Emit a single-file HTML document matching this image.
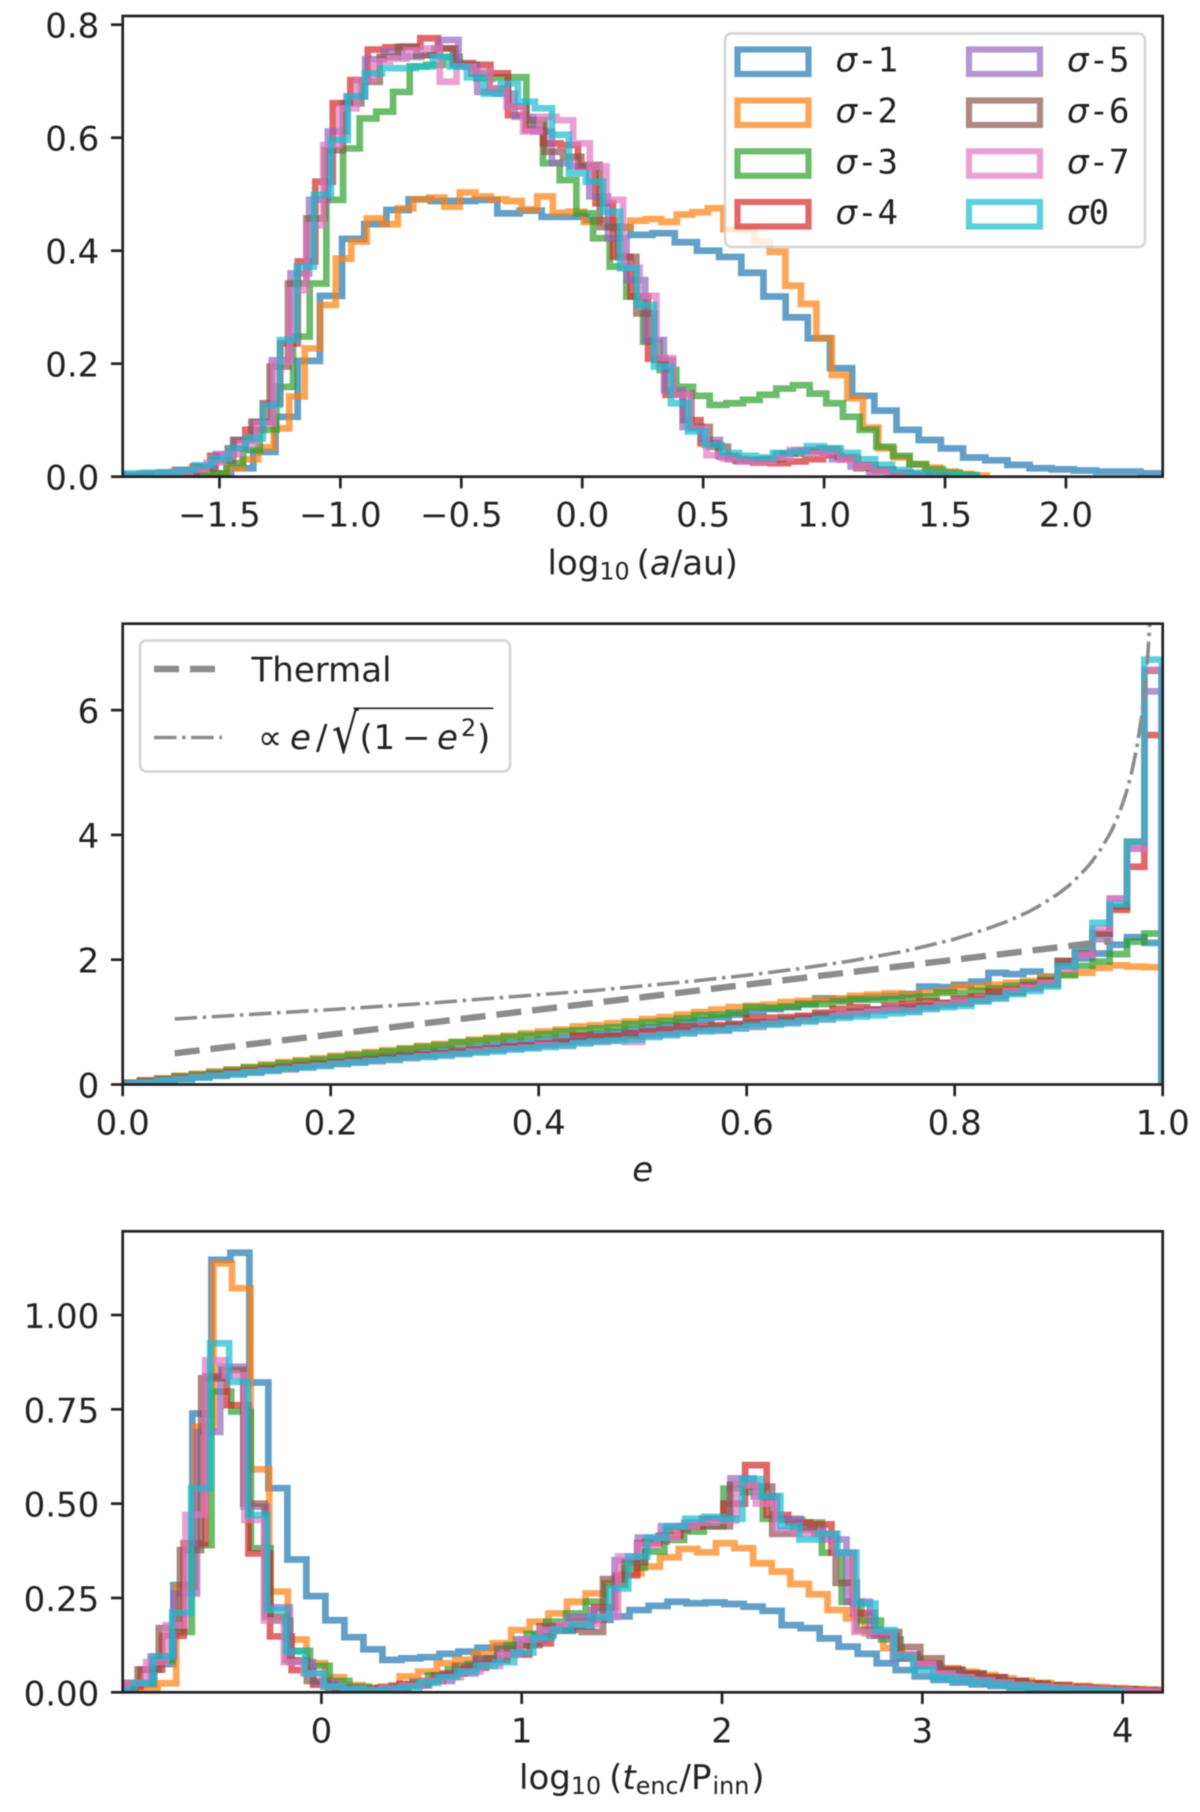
<!DOCTYPE html>
<html lang="en">
<head>
<meta charset="utf-8">
<title>Histograms of semi-major axis, eccentricity and encounter time</title>
<style>
html,body{margin:0;padding:0;background:#fff;}
svg{display:block;filter:blur(0.4px);}
text{font-family:"DejaVu Sans",sans-serif;fill:#222;}
.mono{font-family:"DejaVu Sans Mono",monospace;}
</style>
</head>
<body>
<svg id="chart" xmlns="http://www.w3.org/2000/svg" width="1200" height="1812" viewBox="0 0 1200 1812" font-size="34">
  <defs>
    <clipPath id="clip-a"><rect x="122.7" y="16" width="1040" height="460.7"/></clipPath>
    <clipPath id="clip-e"><rect x="122.7" y="623.7" width="1040" height="460.8"/></clipPath>
    <clipPath id="clip-t"><rect x="122.7" y="1231.3" width="1040" height="461"/></clipPath>
  </defs>
  <rect x="0" y="0" width="1200" height="1812" fill="#fff"/>
  <g id="panel-a"></g>
  <g id="panel-e"></g>
  <g id="panel-t"></g>

  <text x="547.5" y="574.5">log<tspan font-size="23.8" dy="5">10</tspan><tspan dy="-5" dx="7">(</tspan><tspan font-style="italic">a</tspan>/au)</text>
  <text x="642.7" y="1181" text-anchor="middle" font-style="italic">e</text>
  <text x="519" y="1789">log<tspan font-size="23.8" dy="5">10</tspan><tspan dy="-5" dx="8">(</tspan><tspan font-style="italic">t</tspan><tspan font-size="23.8" dy="5">enc</tspan><tspan dy="-5" dx="1">/P</tspan><tspan font-size="23.8" dy="5" dx="1">inn</tspan><tspan dy="-5" dx="2">)</tspan></text>

  <g>
    <rect x="725" y="33.5" width="420" height="213.5" rx="6.5" fill="#fff" fill-opacity="0.8" stroke="#ccc" stroke-opacity="0.8" stroke-width="2.7"/>
    <g fill="none" stroke-width="6.2" stroke-opacity="0.7">
      <rect x="737.5" y="49.5" width="71" height="24.5" stroke="#1f77b4"/>
      <rect x="737.5" y="100.5" width="71" height="24.5" stroke="#ff7f0e"/>
      <rect x="737.5" y="151.3" width="71" height="24.5" stroke="#2ca02c"/>
      <rect x="737.5" y="202" width="71" height="24.5" stroke="#d62728"/>
      <rect x="969" y="49.5" width="71" height="24.5" stroke="#9467bd"/>
      <rect x="969" y="100.5" width="71" height="24.5" stroke="#8c564b"/>
      <rect x="969" y="151.3" width="71" height="24.5" stroke="#e377c2"/>
      <rect x="969" y="202" width="71" height="24.5" stroke="#17becf"/>
    </g>
    <text x="835.5" y="71.5"><tspan font-style="italic">σ</tspan><tspan class="mono">-1</tspan></text>
    <text x="835.5" y="122.5"><tspan font-style="italic">σ</tspan><tspan class="mono">-2</tspan></text>
    <text x="835.5" y="173.3"><tspan font-style="italic">σ</tspan><tspan class="mono">-3</tspan></text>
    <text x="835.5" y="224"><tspan font-style="italic">σ</tspan><tspan class="mono">-4</tspan></text>
    <text x="1067" y="71.5"><tspan font-style="italic">σ</tspan><tspan class="mono">-5</tspan></text>
    <text x="1067" y="122.5"><tspan font-style="italic">σ</tspan><tspan class="mono">-6</tspan></text>
    <text x="1067" y="173.3"><tspan font-style="italic">σ</tspan><tspan class="mono">-7</tspan></text>
    <text x="1067" y="224"><tspan font-style="italic">σ</tspan><tspan class="mono">0</tspan></text>
  </g>

  <g>
    <rect x="140" y="640.5" width="370" height="131" rx="6.5" fill="#fff" fill-opacity="0.8" stroke="#ccc" stroke-opacity="0.8" stroke-width="2.7"/>
    <line x1="154" y1="669" x2="217" y2="669" stroke="#8c8c8c" stroke-width="6.4" stroke-dasharray="25 11"/>
    <line x1="154" y1="737.5" x2="222" y2="737.5" stroke="#8c8c8c" stroke-width="3.6" stroke-dasharray="22.5 5.6 3.5 5.6"/>
    <text x="251.5" y="681.5">Thermal</text>
    <g>
      <text x="258" y="749">∝</text>
      <text x="290" y="749" font-style="italic">e</text>
      <text x="316" y="749">/</text>
      <text transform="translate(332,752.5) scale(1,1.3)" font-size="42">√</text>
      <path d="M353.5 708.3 H493.3" stroke="#222" stroke-width="1.7" fill="none"/>
      <text x="359.5" y="749">(</text>
      <text x="373.5" y="749">1</text>
      <text x="402" y="749">−</text>
      <text x="437" y="749" font-style="italic">e</text>
      <text x="461" y="736" font-size="23.8">2</text>
      <text x="477" y="749">)</text>
    </g>
  </g>

<script>
// ---------- palette and labels ----------
const seriesNames = ['sigma-1','sigma-2','sigma-3','sigma-4','sigma-5','sigma-6','sigma-7','sigma-0'];
const seriesColors = ['#1f77b4','#ff7f0e','#2ca02c','#d62728','#9467bd','#8c564b','#e377c2','#17becf'];

// ---------- panel 1: log10(a/au) histograms ----------
const aBinStarts = [-1.91,-1.596,-1.609,-1.9,-1.901,-1.747,-1.76,-1.953];
const aBinWidths = [0.0917,0.0641,0.0689,0.0724,0.0772,0.0758,0.0689,0.0703];
const aSigma1 = [.001,.001,.002,.0035,.006,.015,.044,.106,.205,.320,.421,.447,.472,.491,.488,.488,.490,.466,.471,.460,.460,.454,.442,.428,.431,.415,.400,.389,.361,.319,.282,.245,.192,.143,.117,.083,.065,.050,.034,.029,.021,.015,.013,.011,.009,.009,.006];
const aSigma2 = [.003,.006,.015,.031,.052,.0855,.142,.227,.304,.386,.416,.457,.447,.475,.491,.494,.478,.503,.496,.491,.488,.473,.496,.467,.469,.451,.454,.44,.453,.456,.451,.464,.468,.475,.438,.437,.416,.398,.338,.306,.245,.180,.139,.087,.050,.034,.022,.016,.009,.005,.002];
const aSigma3 = [.002,.006,.024,.047,.083,.159,.248,.342,.49,.581,.634,.646,.681,.726,.729,.743,.729,.705,.707,.707,.622,.555,.525,.466,.422,.372,.319,.239,.189,.159,.143,.127,.13,.136,.145,.156,.162,.147,.13,.106,.083,.053,.037,.022,.013,.007,.003];
const aSigma4 = [.003,.005,.007,.012,.018,.037,.05,.083,.130,.236,.381,.522,.661,.702,.756,.76,.761,.776,.758,.732,.729,.714,.64,.614,.59,.587,.549,.484,.389,.319,.209,.145,.10,.059,.037,.028,.025,.024,.027,.031,.038,.031,.021,.013,.007,.004,.002];
const aSigma5 = [.002,.003,.006,.009,.018,.04,.065,.097,.206,.36,.49,.611,.673,.739,.752,.743,.746,.773,.726,.681,.678,.637,.611,.555,.549,.496,.422,.348,.242,.153,.088,.065,.035,.027,.03,.041,.047,.044,.031,.018,.009,.005,.002];
const aSigma6 = [.004,.008,.015,.028,.065,.097,.195,.342,.457,.578,.661,.699,.743,.761,.746,.758,.729,.714,.687,.655,.631,.575,.566,.552,.442,.389,.289,.206,.147,.088,.053,.031,.03,.031,.041,.046,.05,.035,.015,.011,.005,.002];
const aSigma7 = [.006,.009,.013,.025,.04,.059,.094,.204,.33,.445,.587,.652,.702,.735,.74,.755,.758,.699,.726,.717,.687,.655,.611,.637,.631,.59,.549,.49,.37,.32,.21,.145,.085,.038,.032,.027,.027,.034,.047,.041,.044,.03,.018,.009,.005,.002];
const aSigma0 = [.005,.006,.007,.008,.012,.02,.032,.05,.068,.127,.242,.372,.499,.596,.673,.714,.723,.723,.726,.743,.726,.707,.678,.696,.664,.652,.605,.537,.522,.469,.369,.304,.195,.130,.08,.056,.042,.037,.034,.042,.044,.054,.05,.042,.031,.021,.012,.007,.005,.003,.001];
const aXTicks = [-1.5,-1.0,-0.5,0.0,0.5,1.0,1.5,2.0];
const aXTickLabels = ['−1.5','−1.0','−0.5','0.0','0.5','1.0','1.5','2.0'];
const aYTicks = [0,0.2,0.4,0.6,0.8];
const aYTickLabels = ['0.0','0.2','0.4','0.6','0.8'];

// ---------- panel 2: eccentricity histograms ----------
const eBinStarts = [0,0,0,0,0,0,0,0];
const eBinWidths = [0.01665,0.01665,0.01665,0.01665,0.01665,0.01665,0.01665,0.01665];
const eSigma1 = [.02,.05,.08,.11,.14,.17,.20,.23,.26,.29,.32,.35,.38,.41,.44,.46,.49,.52,.55,.57,.60,.63,.66,.69,.72,.75,.78,.81,.84,.88,.92,.96,1.00,1.03,1.08,1.12,1.17,1.21,1.24,1.30,1.38,1.36,1.38,1.40,1.42,1.45,1.57,1.56,1.60,1.65,1.79,1.77,1.81,1.73,1.89,2.02,2.10,2.24,2.36,2.27];
const eSigma2 = [.03,.07,.10,.14,.17,.21,.24,.28,.32,.36,.39,.42,.46,.49,.52,.55,.58,.62,.65,.68,.72,.75,.78,.82,.85,.88,.93,.95,.98,1.01,1.05,1.08,1.12,1.16,1.20,1.24,1.26,1.28,1.32,1.34,1.36,1.38,1.42,1.44,1.46,1.44,1.47,1.50,1.57,1.56,1.60,1.63,1.66,1.72,1.77,1.79,1.87,1.91,1.89,1.88];
const eSigma3 = [.02,.06,.09,.13,.16,.19,.23,.27,.30,.34,.37,.40,.44,.47,.50,.53,.57,.60,.63,.68,.70,.73,.76,.79,.81,.85,.87,.90,.92,.97,1.00,1.02,1.06,1.11,1.12,1.15,1.24,1.23,1.25,1.28,1.29,1.33,1.36,1.36,1.37,1.39,1.41,1.47,1.46,1.50,1.54,1.58,1.63,1.68,1.75,1.90,1.97,2.09,2.29,2.42];
const eSigma4 = [.02,.05,.07,.10,.13,.16,.19,.22,.25,.27,.30,.33,.35,.38,.40,.43,.46,.48,.50,.53,.56,.58,.61,.63,.66,.69,.78,.77,.78,.82,.85,.88,.93,.93,.95,.97,1.07,1.07,1.08,1.10,1.15,1.21,1.24,1.20,1.26,1.29,1.33,1.30,1.37,1.41,1.49,1.52,1.59,1.66,1.98,2.10,2.42,2.80,3.49,5.60];
const eSigma5 = [.02,.04,.07,.09,.12,.15,.17,.20,.23,.26,.29,.31,.34,.37,.39,.42,.44,.47,.49,.51,.54,.56,.59,.61,.65,.68,.72,.71,.73,.78,.80,.83,.87,.90,.88,.95,.98,1.00,1.02,1.05,1.10,1.12,1.15,1.20,1.22,1.21,1.25,1.27,1.33,1.36,1.42,1.47,1.57,1.62,1.92,2.08,2.33,2.98,3.78,6.30];
const eSigma6 = [.02,.04,.07,.10,.12,.15,.18,.21,.24,.26,.29,.32,.34,.37,.40,.42,.45,.47,.50,.52,.54,.57,.60,.62,.64,.67,.70,.73,.76,.78,.81,.85,.88,.90,.93,.96,1.00,.98,1.05,1.08,1.12,1.10,1.17,1.20,1.19,1.24,1.26,1.31,1.30,1.36,1.44,1.48,1.54,1.60,1.98,2.15,2.42,2.85,3.89,6.63];
const eSigma7 = [.01,.03,.06,.09,.12,.14,.17,.20,.22,.24,.28,.30,.33,.35,.37,.39,.42,.45,.47,.49,.53,.55,.57,.59,.63,.62,.66,.68,.70,.68,.78,.80,.82,.85,.86,.90,.92,.97,.98,1.02,1.04,1.10,1.13,1.17,1.19,1.18,1.22,1.28,1.31,1.34,1.38,1.50,1.55,1.63,1.85,2.08,2.50,2.98,3.78,6.65];
const eSigma0 = [.01,.03,.06,.08,.11,.14,.16,.19,.22,.25,.27,.30,.33,.35,.38,.40,.43,.44,.46,.49,.51,.53,.56,.58,.60,.62,.66,.69,.70,.72,.76,.79,.82,.86,.87,.90,.94,.96,.99,1.01,1.05,1.07,1.09,1.11,1.14,1.16,1.21,1.24,1.26,1.33,1.38,1.45,1.50,1.57,1.90,2.21,2.59,2.89,3.89,6.81];
const thermalE = [0.05,0.95];
const thermalV = [0.5,2.3];
const powerLawE = [.05,.1,.2,.3,.4,.45,.5,.55,.6,.65,.7,.75,.8,.83,.85,.87,.88,.9,.91,.92,.93,.94,.95,.955,.96,.965,.97,.975,.98,.985,.99];
const powerLawV = [1.05,1.10,1.20,1.31,1.44,1.50,1.58,1.66,1.75,1.855,1.98,2.13,2.33,2.49,2.61,2.76,2.85,3.06,3.19,3.35,3.53,3.76,4.04,4.22,4.43,4.68,4.99,5.39,5.92,6.71,8.02];
const eXTicks = [0,0.2,0.4,0.6,0.8,1.0];
const eXTickLabels = ['0.0','0.2','0.4','0.6','0.8','1.0'];
const eYTicks = [0,2,4,6];
const eYTickLabels = ['0','2','4','6'];

// ---------- panel 3: log10(t_enc/P_inn) histograms ----------
const tBinStarts = [-1.024,-1.0035,-1.04,-1.011,-1.084,-1.023,-0.9734,-1.03];
const tBinWidths = [0.0949,0.0929,0.0983,0.1078,0.1158,0.1056,0.0982,0.0949];
const tSigma1 = [.006,.02,.075,.284,.739,1.146,1.165,.821,.541,.352,.255,.191,.146,.114,.086,.09,.093,.102,.108,.118,.123,.14,.152,.163,.174,.192,.201,.218,.229,.24,.236,.238,.234,.227,.216,.178,.17,.143,.121,.102,.077,.059,.042,.033,.026,.021,.017,.013,.011,.009,.007,.005,.004,.003,.002];
const tSigma2 = [.003,.008,.024,.28,.704,1.137,1.071,.591,.267,.14,.077,.04,.019,.011,.015,.042,.055,.077,.086,.103,.13,.165,.187,.209,.24,.262,.29,.315,.333,.358,.38,.371,.395,.382,.342,.32,.287,.26,.218,.196,.156,.117,.09,.077,.064,.055,.046,.037,.03,.025,.02,.017,.014,.011,.009,.007];
const tSigma3 = [.008,.025,.085,.16,.39,.797,.744,.382,.19,.11,.07,.03,.015,.008,.01,.02,.045,.06,.075,.09,.125,.155,.187,.209,.24,.285,.33,.373,.404,.426,.44,.54,.53,.46,.457,.45,.37,.24,.19,.14,.09,.07,.055,.045,.035,.03,.024,.018,.014,.011,.009,.007,.005,.004];
const tSigma4 = [.015,.06,.15,.395,.837,.761,.368,.148,.059,.02,.01,.007,.012,.022,.03,.05,.065,.085,.1,.13,.165,.19,.225,.31,.395,.415,.44,.46,.5,.602,.47,.45,.445,.37,.21,.15,.1,.075,.06,.05,.04,.03,.023,.018,.014,.01,.008,.006];
const tSigma5 = [.005,.025,.095,.262,.69,.863,.492,.225,.08,.025,.01,.006,.012,.018,.03,.05,.085,.1,.14,.175,.2,.218,.35,.41,.44,.45,.46,.567,.519,.46,.43,.405,.24,.15,.09,.07,.05,.035,.025,.018,.012,.008,.006,.004,.002];
const tSigma6 = [.025,.06,.17,.377,.832,.854,.5,.2,.085,.03,.012,.006,.01,.018,.028,.045,.07,.09,.115,.125,.175,.165,.16,.3,.345,.40,.43,.44,.44,.55,.545,.42,.435,.42,.29,.165,.16,.12,.09,.06,.05,.04,.03,.022,.016,.012,.009,.007,.005,.003];
const tSigma7 = [.025,.08,.178,.47,.88,.84,.457,.19,.08,.05,.015,.008,.006,.01,.017,.03,.04,.055,.07,.10,.14,.165,.18,.18,.2,.36,.39,.41,.44,.45,.455,.55,.5,.43,.42,.42,.37,.16,.16,.1,.075,.05,.04,.032,.026,.02,.016,.013,.01,.008,.006,.004,.003];
const tSigma0 = [.006,.024,.095,.211,.541,.925,.823,.47,.218,.108,.05,.015,.008,.005,.007,.013,.025,.04,.055,.07,.08,.105,.145,.165,.18,.2,.275,.36,.41,.44,.46,.465,.46,.565,.52,.44,.405,.42,.37,.235,.165,.095,.06,.04,.035,.028,.022,.017,.013,.01,.007,.005,.003];
const tXTicks = [0,1,2,3,4];
const tXTickLabels = ['0','1','2','3','4'];
const tYTicks = [0,0.25,0.5,0.75,1.0];
const tYTickLabels = ['0.00','0.25','0.50','0.75','1.00'];

const SVG_NS = 'http://www.w3.org/2000/svg';
const plotLeft = 122.7;
const plotRight = 1162.7;

function makeAxis(xMin, xMax, yMax, top, bottom) {
  return {
    top: top,
    bottom: bottom,
    x: function (v) { return plotLeft + (v - xMin) / (xMax - xMin) * (plotRight - plotLeft); },
    y: function (v) { return bottom - v / yMax * (bottom - top); }
  };
}

function drawHistogram(group, axis, clipId, prefix, index, start, width, values) {
  const edgeAt = function (k) { return axis.x(start + k * width); };
  let d = 'M' + edgeAt(0).toFixed(2) + ' ' + axis.y(0).toFixed(2);
  values.forEach(function (v, k) {
    const yPos = axis.y(v).toFixed(2);
    d += 'L' + edgeAt(k).toFixed(2) + ' ' + yPos + 'L' + edgeAt(k + 1).toFixed(2) + ' ' + yPos;
  });
  d += 'L' + edgeAt(values.length).toFixed(2) + ' ' + axis.y(0).toFixed(2);
  const path = document.createElementNS(SVG_NS, 'path');
  
  
  path.setAttribute('data-series', prefix + '-' + seriesNames[index]);
  path.setAttribute('d', d);
  path.setAttribute('fill', 'none');
  path.setAttribute('stroke', seriesColors[index]);
  path.setAttribute('stroke-opacity', '0.7');
  path.setAttribute('stroke-width', '6.7');
  path.setAttribute('stroke-linejoin', 'miter');
  path.setAttribute('clip-path', 'url(#' + clipId + ')');
  group.appendChild(path);
}

function drawCurve(group, axis, clipId, xs, ys, width, dash, label) {
  let d = '';
  xs.forEach(function (v, k) {
    d += (k ? 'L' : 'M') + axis.x(v).toFixed(2) + ' ' + axis.y(ys[k]).toFixed(2);
  });
  const path = document.createElementNS(SVG_NS, 'path');
  
  
  path.setAttribute('data-series', label);
  path.setAttribute('d', d);
  path.setAttribute('fill', 'none');
  path.setAttribute('stroke', '#8c8c8c');
  path.setAttribute('stroke-width', width);
  path.setAttribute('stroke-dasharray', dash);
  path.setAttribute('clip-path', 'url(#' + clipId + ')');
  group.appendChild(path);
}

function drawFrame(group, axis, xTicks, xLabels, yTicks, yLabels) {
  const frame = document.createElementNS(SVG_NS, 'rect');
  
  
  frame.setAttribute('x', plotLeft);
  frame.setAttribute('y', axis.top);
  frame.setAttribute('width', plotRight - plotLeft);
  frame.setAttribute('height', axis.bottom - axis.top);
  frame.setAttribute('fill', 'none');
  frame.setAttribute('stroke', '#222');
  frame.setAttribute('stroke-width', '2.7');
  group.appendChild(frame);

  xTicks.forEach(function (v, k) {
    const px = axis.x(v);
    const tick = document.createElementNS(SVG_NS, 'line');
    
    
    tick.setAttribute('x1', px);
    tick.setAttribute('x2', px);
    tick.setAttribute('y1', axis.bottom);
    tick.setAttribute('y2', axis.bottom + 11.7);
    tick.setAttribute('stroke', '#222');
    tick.setAttribute('stroke-width', '2.7');
    group.appendChild(tick);
    const label = document.createElementNS(SVG_NS, 'text');
    
    
    label.setAttribute('x', px);
    label.setAttribute('y', axis.bottom + 50);
    label.setAttribute('text-anchor', 'middle');
    label.textContent = xLabels[k];
    group.appendChild(label);
  });

  yTicks.forEach(function (v, k) {
    const py = axis.y(v);
    const tick = document.createElementNS(SVG_NS, 'line');
    
    
    tick.setAttribute('x1', plotLeft - 11.7);
    tick.setAttribute('x2', plotLeft);
    tick.setAttribute('y1', py);
    tick.setAttribute('y2', py);
    tick.setAttribute('stroke', '#222');
    tick.setAttribute('stroke-width', '2.7');
    group.appendChild(tick);
    const label = document.createElementNS(SVG_NS, 'text');
    
    
    label.setAttribute('x', plotLeft - 23.4);
    label.setAttribute('y', py + 13);
    label.setAttribute('text-anchor', 'end');
    label.textContent = yLabels[k];
    group.appendChild(label);
  });
}

const axisA = makeAxis(-1.9, 2.4, 0.8154, 16, 476.7);
const axisE = makeAxis(0, 1, 7.385, 623.7, 1084.5);
const axisT = makeAxis(-0.992, 4.2, 1.2218, 1231.3, 1692.3);

const groupA = document.getElementById('panel-a');
const groupE = document.getElementById('panel-e');
const groupT = document.getElementById('panel-t');

[aSigma1,aSigma2,aSigma3,aSigma4,aSigma5,aSigma6,aSigma7,aSigma0].forEach(function (values, i) {
  drawHistogram(groupA, axisA, 'clip-a', 'a', i, aBinStarts[i], aBinWidths[i], values);
});
drawFrame(groupA, axisA, aXTicks, aXTickLabels, aYTicks, aYTickLabels);

[eSigma1,eSigma2,eSigma3,eSigma4,eSigma5,eSigma6,eSigma7,eSigma0].forEach(function (values, i) {
  drawHistogram(groupE, axisE, 'clip-e', 'e', i, eBinStarts[i], eBinWidths[i], values);
});
drawCurve(groupE, axisE, 'clip-e', thermalE, thermalV, '6.4', '25 11', 'thermal');
drawCurve(groupE, axisE, 'clip-e', powerLawE, powerLawV, '3.6', '22.5 5.6 3.5 5.6', 'power-law');
drawFrame(groupE, axisE, eXTicks, eXTickLabels, eYTicks, eYTickLabels);

[tSigma1,tSigma2,tSigma3,tSigma4,tSigma5,tSigma6,tSigma7,tSigma0].forEach(function (values, i) {
  drawHistogram(groupT, axisT, 'clip-t', 't', i, tBinStarts[i], tBinWidths[i], values);
});
drawFrame(groupT, axisT, tXTicks, tXTickLabels, tYTicks, tYTickLabels);
</script>
</svg>
</body>
</html>
